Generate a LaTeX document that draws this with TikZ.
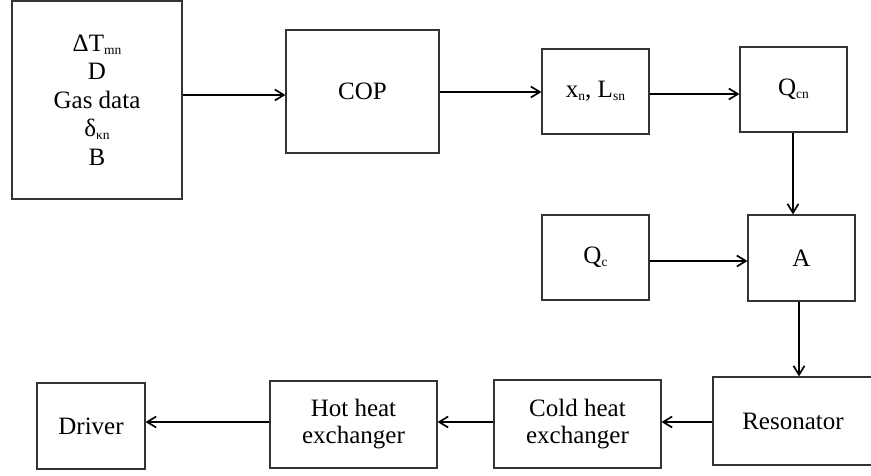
\documentclass[tikz,border=0pt]{standalone}
\usepackage{fontspec}
\setmainfont{Liberation Serif}
\usetikzlibrary{arrows.meta}
\definecolor{boxgray}{HTML}{333333}
\newcommand\sbs[1]{\raisebox{-3pt}{\fontsize{13.5}{14}\selectfont #1}}
\begin{document}
\begin{tikzpicture}[x=1pt,y=-1pt,
  blk/.style={draw=boxgray, line width=1.1pt, inner sep=0pt, align=center,
    font=\fontsize{25}{27}\selectfont},
  arr/.style={line width=1.7pt, -{Straight Barb[length=9pt,width=11pt]}}]
\useasboundingbox (0,0) rectangle (871,475);
\node[blk, minimum width=170pt, minimum height=198pt,
  font=\fontsize{25}{28.5}\selectfont] (in) at (97,100)
  {ΔT\sbs{mn}\\D\\Gas data\\δ\sbs{κn}\\B};
\node[blk, minimum width=153pt, minimum height=123pt] (cop) at (362.5,91.5) {COP};
\node[blk, minimum width=107pt, minimum height=85pt] (xn) at (595.5,91.5) {x\sbs{n}, L\sbs{sn}};
\node[blk, minimum width=107pt, minimum height=85pt] (qcn) at (793.5,89.5) {Q\sbs{cn}};
\node[blk, minimum width=107pt, minimum height=85pt] (qc) at (595.5,257.5) {Q\sbs{c}};
\node[blk, minimum width=107pt, minimum height=86pt] (a) at (801.5,258) {A};
\node[blk, minimum width=160pt, minimum height=88pt] (res) at (793,421) {Resonator};
\node[blk, minimum width=167pt, minimum height=88pt] (cold) at (577.5,424) {Cold heat\\exchanger};
\node[blk, minimum width=167pt, minimum height=87pt] (hot) at (353.5,424.5) {Hot heat\\exchanger};
\node[blk, minimum width=108pt, minimum height=86pt] (drv) at (91,426) {Driver};
\draw[arr] (in.east |- 0,95) -- (cop.west |- 0,95);
\draw[arr] (cop.east |- 0,92) -- (xn.west |- 0,92);
\draw[arr] (xn.east |- 0,94) -- (qcn.west |- 0,94);
\draw[arr] (qcn.south -| 793,0) -- (a.north -| 793,0);
\draw[arr] (qc.east |- 0,261) -- (a.west |- 0,261);
\draw[arr] (a.south -| 799,0) -- (res.north -| 799,0);
\draw[arr] (res.west |- 0,422) -- (cold.east |- 0,422);
\draw[arr] (cold.west |- 0,422) -- (hot.east |- 0,422);
\draw[arr] (hot.west |- 0,422) -- (drv.east |- 0,422);
\end{tikzpicture}
\end{document}
